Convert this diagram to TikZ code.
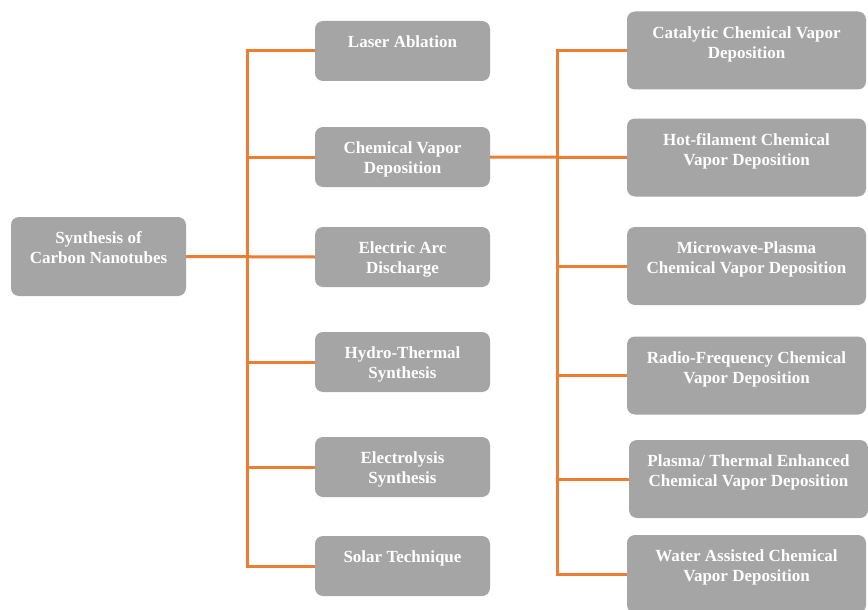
\documentclass[tikz,border=0pt]{standalone}
\usepackage{fontspec}
\setmainfont{Liberation Serif}
\definecolor{boxgray}{HTML}{A5A5A5}
\definecolor{linkorange}{HTML}{ED7D31}
\newcommand{\boxtext}[3]{\parbox[c][#2][t]{#1}{\centering #3}}
\tikzset{
  box/.style={fill=boxgray, rounded corners=8pt, text=white, inner xsep=0pt, inner ysep=15pt,
    font=\fontsize{17}{20}\selectfont\bfseries},
  midbox/.style={box, minimum width=175pt},
  subbox/.style={box, minimum width=239pt},
  link/.style={draw=linkorange, line width=3pt}
}
\begin{document}
\begin{tikzpicture}[x=1pt,y=-1pt]
\useasboundingbox (0,0) rectangle (868,610);
\node[box, minimum width=175pt] (root) at (98.5,256.5) {\boxtext{170pt}{49pt}{Synthesis of\\Carbon Nanotubes}};

\node[midbox] (laser) at (402.5,51) {\boxtext{165pt}{30pt}{Laser Ablation}};
\node[midbox] (cvd) at (402.5,157) {\boxtext{165pt}{30pt}{Chemical Vapor\\Deposition}};
\node[midbox] (arc) at (402.5,257) {\boxtext{165pt}{30pt}{Electric Arc\\Discharge}};
\node[midbox] (hydro) at (402.5,362) {\boxtext{165pt}{30pt}{Hydro-Thermal\\Synthesis}};
\node[midbox] (electro) at (402.5,467) {\boxtext{165pt}{30pt}{Electrolysis\\Synthesis}};
\node[midbox] (solar) at (402.5,566) {\boxtext{165pt}{30pt}{Solar Technique}};

\node[subbox] (ccvd) at (746.5,50.5) {\boxtext{230pt}{48pt}{Catalytic Chemical Vapor\\Deposition}};
\node[subbox] (hfcvd) at (746.5,157.5) {\boxtext{230pt}{48pt}{Hot-filament Chemical\\Vapor Deposition}};
\node[subbox] (mpcvd) at (746.5,266) {\boxtext{230pt}{48pt}{Microwave-Plasma\\Chemical Vapor Deposition}};
\node[subbox] (rfcvd) at (746.5,375.5) {\boxtext{230pt}{48pt}{Radio-Frequency Chemical\\Vapor Deposition}};
\node[subbox] (ptcvd) at (748.5,479) {\boxtext{230pt}{48pt}{Plasma/ Thermal Enhanced\\Chemical Vapor Deposition}};
\node[subbox] (wacvd) at (746.5,574) {\boxtext{230pt}{48pt}{Water Assisted Chemical\\Vapor Deposition}};

\coordinate (j1) at (247,257);
\coordinate (j2) at (557,157);
\draw[link] (root.east) -- (arc.west);
\draw[link] (laser.west) -| (j1) |- (solar.west);
\foreach \n in {cvd,hydro,electro}
  \draw[link] (j1 |- \n.west) -- (\n.west);
\draw[link] (cvd.east) -- (hfcvd.west);
\draw[link] (ccvd.west) -| (j2) |- (wacvd.west);
\foreach \n in {mpcvd,rfcvd,ptcvd}
  \draw[link] (j2 |- \n.west) -- (\n.west);
\end{tikzpicture}
\end{document}
